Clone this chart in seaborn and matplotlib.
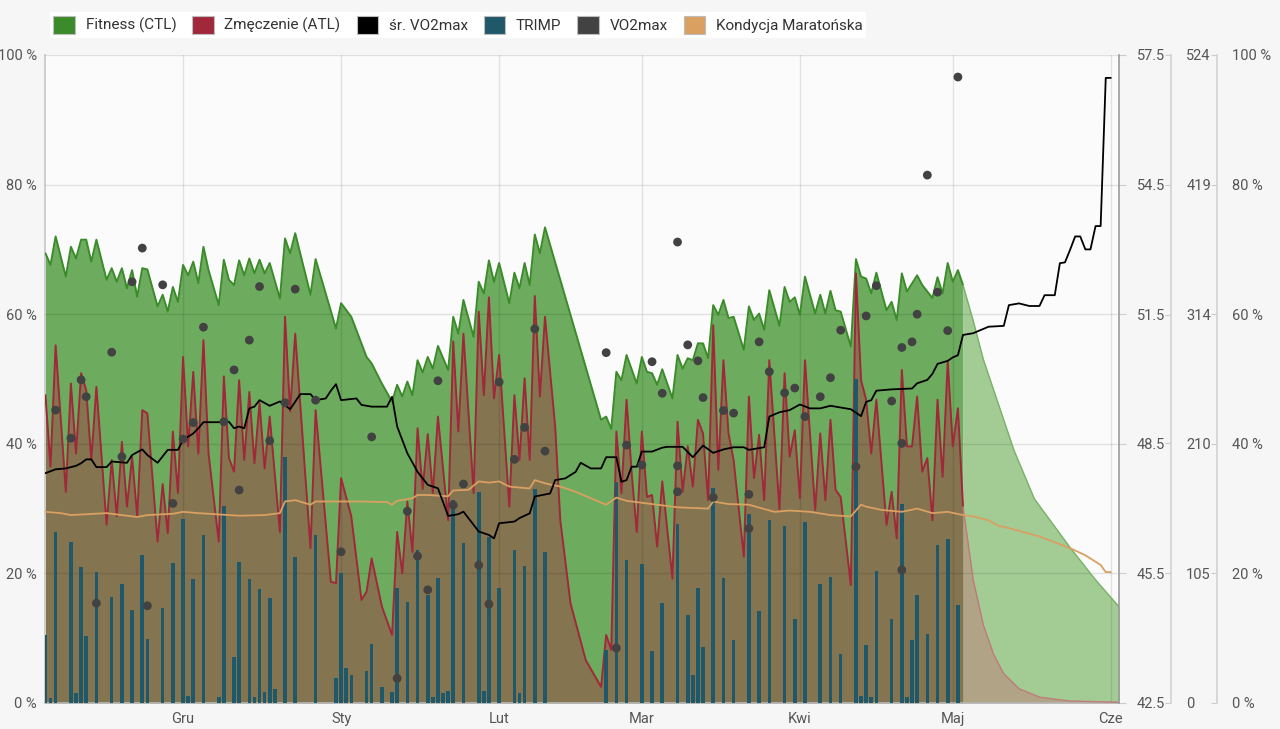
import pandas as pd
import matplotlib
matplotlib.use("Agg")
import matplotlib.pyplot as plt
from matplotlib.patches import Patch
import seaborn as sns

# Dzień 0 = 4 listopada, oś X w dniach
start = pd.Timestamp("2022-11-04")

# Fitness (CTL), % (lewa oś)
ctl_day = [0, 1, 2, 4, 5, 6, 7, 8, 9, 10, 12, 13, 14, 15, 16, 17, 18, 19, 20, 22, 23, 24, 25, 26,
           27, 28, 29, 30, 31, 32, 34, 35, 36, 37, 38, 39, 40, 41, 42, 43, 44, 46, 47, 48, 49, 52,
           53, 57, 58, 60, 63, 64, 66, 68, 69, 70, 71, 72, 73, 74, 75, 76, 77, 79, 80, 81, 82, 84,
           85, 86, 87, 88, 89, 91, 92, 93, 94, 95, 96, 97, 98, 109, 110, 111, 112, 113, 114, 116,
           117, 118, 119, 120, 121, 123, 124, 125, 126, 127, 128, 129, 130, 131, 132, 133, 134,
           135, 137, 138, 139, 140, 141, 142, 144, 145, 146, 147, 148, 149, 151, 152, 153, 154,
           155, 156, 158, 159, 160, 161, 162, 163, 165, 166, 167, 168, 169, 171, 172, 173, 174,
           175, 176, 177, 178, 179, 180]
ctl_val = [69.4, 67.6, 72.0, 65.8, 70.4, 68.6, 71.5, 71.5, 68.1, 71.5, 65.3, 67.1, 65.0, 67.1,
           64.0, 66.8, 62.7, 67.1, 66.9, 61.2, 63.0, 60.4, 64.2, 61.9, 67.6, 66.0, 68.1, 64.8,
           70.4, 66.8, 61.4, 68.4, 65.3, 64.5, 68.3, 66.0, 68.6, 66.3, 68.4, 66.3, 67.9, 62.4,
           71.7, 69.4, 72.5, 63.0, 68.5, 57.8, 61.7, 59.6, 53.4, 52.4, 49.3, 46.5, 49.1, 47.3,
           49.6, 47.5, 52.9, 51.0, 53.4, 51.6, 55.1, 51.4, 59.6, 57.0, 62.2, 56.5, 65.0, 63.2,
           68.3, 65.0, 67.9, 61.7, 66.4, 64.0, 67.9, 64.5, 72.3, 69.4, 73.4, 43.7, 44.2, 42.3,
           51.1, 49.8, 53.7, 49.3, 53.4, 51.1, 50.9, 49.1, 51.5, 47.0, 53.7, 51.6, 53.2, 52.9,
           55.5, 55.5, 53.2, 61.4, 59.9, 62.2, 59.4, 59.6, 54.5, 61.2, 59.1, 60.1, 57.6, 63.7,
           58.2, 64.2, 61.9, 62.6, 59.9, 65.8, 60.1, 63.0, 60.1, 63.6, 60.6, 60.4, 55.0, 68.5,
           65.8, 65.5, 63.2, 66.4, 60.6, 61.9, 59.1, 66.3, 63.5, 66.0, 64.5, 63.5, 62.5, 65.7,
           63.2, 67.9, 65.0, 66.8, 64.5]
ctl_proj_day = [180, 182, 184, 187, 190, 194, 201, 206, 211]
ctl_proj_val = [64.5, 59.0, 53.0, 46.0, 39.0, 31.5, 24.0, 19.0, 14.5]

# Zmęczenie (ATL), %
atl_day = [0, 1, 2, 4, 5, 6, 7, 8, 9, 10, 12, 13, 14, 15, 16, 17, 18, 19, 20, 22, 23, 24, 25, 26,
           27, 28, 29, 30, 31, 32, 34, 35, 36, 37, 38, 39, 40, 41, 42, 43, 44, 46, 47, 48, 49, 52,
           53, 56, 57, 58, 60, 62, 63, 64, 66, 68, 69, 70, 71, 72, 73, 74, 75, 76, 77, 79, 80, 81,
           82, 84, 85, 86, 87, 88, 89, 91, 92, 93, 94, 95, 96, 97, 98, 100, 101, 103, 106, 109,
           110, 111, 112, 113, 114, 115, 116, 117, 118, 119, 120, 121, 123, 124, 125, 126, 127,
           128, 129, 130, 131, 132, 133, 134, 135, 137, 138, 139, 140, 141, 142, 144, 145, 146,
           147, 148, 149, 151, 152, 153, 154, 155, 156, 158, 159, 160, 161, 162, 163, 165, 166,
           167, 168, 169, 170, 171, 172, 173, 174, 175, 176, 177, 178, 179, 180]
atl_val = [47.5, 36.5, 55.2, 32.6, 49.3, 38.5, 50.9, 48.3, 37.5, 48.8, 27.5, 37.5, 28.8, 40.3,
           30.3, 38.0, 28.8, 45.2, 44.7, 24.9, 33.8, 26.2, 41.9, 32.4, 53.4, 39.6, 51.1, 38.5,
           56.0, 38.5, 24.9, 50.4, 37.8, 35.7, 49.8, 37.5, 48.0, 37.0, 46.3, 36.2, 44.2, 26.4,
           59.6, 45.0, 57.0, 23.9, 45.2, 18.7, 18.5, 34.7, 28.8, 15.9, 17.2, 22.3, 14.9, 10.5,
           26.4, 20.0, 31.1, 23.3, 42.4, 33.0, 41.5, 32.4, 44.2, 28.2, 55.8, 41.9, 57.0, 32.4,
           60.4, 47.5, 62.6, 47.0, 53.7, 30.3, 47.5, 37.5, 50.1, 37.5, 62.8, 47.3, 59.6, 42.6,
           28.2, 15.4, 6.6, 2.5, 10.5, 8.2, 41.9, 32.4, 46.8, 35.5, 26.4, 41.9, 31.8, 32.1, 24.1,
           34.2, 19.2, 43.4, 32.6, 39.6, 33.4, 43.7, 41.6, 31.3, 58.3, 36.0, 52.9, 41.6, 37.5,
           22.6, 47.3, 34.7, 41.4, 31.3, 52.9, 29.8, 50.9, 38.0, 42.1, 31.6, 52.9, 29.8, 41.6,
           31.3, 43.7, 32.9, 31.8, 18.2, 66.3, 49.8, 46.8, 38.5, 46.8, 27.5, 32.6, 25.4, 51.4,
           39.6, 39.6, 47.3, 35.7, 37.8, 28.2, 46.8, 34.9, 52.7, 39.6, 45.5, 30.3]
atl_proj_day = [180, 182, 184, 186, 188, 191, 195, 201, 211]
atl_proj_val = [30.3, 19.0, 12.0, 7.5, 4.5, 2.2, 0.9, 0.3, 0.1]

# TRIMP (oś 0-524)
trimp_day = [0, 1, 2, 5, 6, 7, 8, 10, 13, 15, 17, 19, 20, 23, 25, 27, 28, 29, 31, 34, 35, 37, 38,
             40, 41, 42, 43, 44, 45, 47, 49, 53, 57, 58, 59, 60, 63, 64, 66, 68, 69, 71, 73, 75,
             76, 77, 78, 79, 80, 82, 85, 86, 87, 89, 92, 93, 94, 96, 98, 110, 112, 114, 117, 119,
             121, 124, 126, 127, 128, 129, 131, 133, 135, 138, 140, 142, 145, 147, 149, 152, 154,
             156, 159, 160, 161, 162, 163, 166, 168, 169, 170, 171, 173, 175, 177, 179]
trimp_val = [55, 4, 138, 130, 8, 110, 54, 106, 86, 96, 75, 120, 52, 77, 113, 149, 6, 100, 136, 5,
             159, 37, 114, 100, 5, 92, 9, 85, 11, 199, 118, 136, 20, 105, 28, 23, 26, 48, 13, 9,
             93, 82, 124, 87, 5, 101, 8, 10, 164, 129, 171, 10, 134, 93, 124, 8, 111, 173, 122,
             43, 179, 116, 112, 42, 81, 145, 71, 23, 93, 45, 174, 101, 51, 153, 74, 148, 143, 68,
             146, 96, 102, 40, 262, 6, 47, 5, 107, 68, 161, 5, 51, 87, 56, 128, 133, 79]

# VO2max (punkty, oś 42.5-57.5)
vo2_day = [2, 5, 7, 8, 10, 13, 15, 17, 19, 20, 23, 25, 27, 29, 31, 35, 37, 38, 40, 42, 44, 47, 49,
           53, 58, 64, 69, 71, 73, 75, 77, 80, 82, 85, 87, 89, 92, 94, 96, 98, 110, 112, 114, 117,
           119, 121, 124, 124, 124, 126, 128, 129, 131, 133, 135, 138, 138, 140, 142, 145, 147,
           149, 152, 154, 156, 159, 161, 163, 166, 168, 168, 168, 170, 171, 173, 175, 177, 179]
vo2_val = [49.28, 48.63, 49.98, 49.59, 44.81, 50.62, 48.20, 52.25, 53.03, 44.75, 52.18, 47.12,
           48.61, 48.99, 51.20, 49.01, 50.21, 47.43, 50.90, 52.14, 48.57, 49.45, 52.08, 49.51,
           46.00, 48.66, 43.07, 46.94, 45.90, 45.12, 49.96, 47.08, 47.57, 45.69, 44.79, 49.93,
           48.14, 48.88, 51.16, 48.33, 50.61, 43.77, 48.47, 48.01, 50.40, 49.67, 53.17, 47.99,
           47.39, 50.79, 50.42, 49.57, 47.26, 49.27, 49.21, 47.33, 46.54, 50.86, 50.17, 49.68,
           49.79, 49.13, 49.59, 50.03, 51.13, 47.97, 51.46, 52.16, 49.49, 50.73, 48.51, 45.58,
           50.86, 51.50, 54.72, 52.01, 51.12, 56.99]

# śr. VO2max (linia, oś 42.5-57.5)
avg_day = [0, 2, 4, 6, 7, 8, 9, 10, 12, 13, 16, 17, 19, 20, 22, 24, 26, 27, 29, 30, 31, 34, 36,
           37, 38, 39, 40, 41, 42, 44, 46, 48, 50, 52, 53, 55, 56, 57, 58, 61, 62, 64, 67, 68, 69,
           71, 73, 75, 77, 79, 81, 82, 85, 87, 88, 89, 92, 93, 95, 96, 99, 100, 102, 104, 105, 107,
           109, 110, 112, 113, 114, 115, 116, 117, 119, 121, 122, 125, 127, 129, 131, 133, 135,
           137, 138, 140, 141, 142, 144, 146, 148, 150, 152, 154, 158, 160, 161, 162, 163, 166,
           170, 171, 173, 174, 175, 177, 178, 179, 180, 182, 185, 188, 189, 191, 193, 195, 196,
           198, 199, 200, 201, 202, 203, 204, 205, 206, 207, 208, 209]
avg_val = [47.82, 47.91, 47.93, 47.99, 48.05, 48.14, 48.14, 47.96, 47.96, 48.09, 48.06, 48.24,
           48.37, 48.24, 48.06, 48.36, 48.36, 48.59, 48.74, 48.86, 49.00, 49.00, 49.01, 48.86,
           48.90, 48.86, 49.32, 49.36, 49.51, 49.38, 49.48, 49.30, 49.65, 49.65, 49.51, 49.55,
           49.73, 49.88, 49.51, 49.55, 49.40, 49.36, 49.36, 49.59, 48.90, 48.28, 47.85, 47.55,
           47.47, 46.83, 46.87, 46.93, 46.47, 46.39, 46.31, 46.66, 46.70, 46.78, 46.89, 47.28,
           47.35, 47.66, 47.70, 47.85, 48.06, 47.93, 47.93, 48.19, 48.19, 47.62, 47.66, 47.97,
           47.97, 48.32, 48.32, 48.41, 48.43, 48.43, 48.19, 48.46, 48.29, 48.37, 48.42, 48.42,
           48.36, 48.40, 48.42, 49.13, 49.23, 49.28, 49.41, 49.32, 49.32, 49.38, 49.30, 49.14,
           49.47, 49.51, 49.73, 49.76, 49.78, 49.90, 49.98, 50.12, 50.35, 50.42, 50.50, 50.55,
           51.02, 51.06, 51.21, 51.23, 51.71, 51.75, 51.69, 51.69, 51.94, 51.94, 52.68, 52.70,
           52.99, 53.30, 53.30, 53.00, 53.00, 53.54, 53.54, 56.97, 56.97]

# Kondycja Maratońska, % (prawa oś)
kond_day = [0, 3, 5, 12, 18, 20, 25, 27, 30, 36, 38, 43, 46, 47, 49, 52, 53, 58, 62, 67, 68, 69,
            72, 73, 75, 79, 80, 83, 85, 87, 89, 91, 95, 96, 98, 101, 104, 107, 110, 112, 114, 118,
            124, 130, 131, 134, 138, 143, 146, 150, 154, 158, 160, 161, 164, 168, 171, 174, 177,
            180, 182, 185, 187, 188, 195, 201, 204, 207, 208, 209]
kond_val = [29.5, 29.3, 29.0, 29.3, 28.7, 29.0, 29.2, 29.5, 29.3, 29.0, 28.9, 29.0, 29.3, 31.1,
            31.3, 30.6, 31.1, 31.1, 31.1, 31.0, 30.6, 31.2, 31.6, 32.1, 32.1, 31.9, 32.8, 32.9,
            34.2, 34.0, 34.2, 33.4, 33.1, 34.4, 33.9, 33.4, 32.6, 31.6, 30.6, 31.7, 31.2, 30.8,
            30.2, 30.0, 31.1, 30.7, 30.6, 29.5, 29.7, 29.5, 29.0, 28.8, 30.6, 30.3, 29.8, 29.5,
            30.0, 29.3, 29.5, 29.0, 28.8, 28.2, 27.3, 27.2, 25.7, 23.9, 22.8, 21.3, 20.2, 20.2]

month_labels = ["Gru", "Sty", "Lut", "Mar", "Kwi", "Maj", "Cze"]


def to_dates(days):
    return start + pd.to_timedelta(days, unit="D")


c_ctl = "#3b8b2a"
c_atl = "#a1283a"
c_avg = "#000000"
c_trimp = "#1f5868"
c_vo2 = "#424242"
c_kond = "#d9a062"

sns.set_theme(style="white")
plt.rcParams["font.family"] = ["Roboto", "DejaVu Sans"]

fig = plt.figure(figsize=(12.8, 7.29), dpi=100, facecolor="#f6f6f6")
ax = fig.add_axes([45 / 1280, 26 / 729, 1074 / 1280, 648 / 729])
ax.set_facecolor("#fbfbfb")
ax3 = ax.twinx()
ax4 = ax.twinx()
ax2 = ax.twinx()

ctl_d, ctl_pd = to_dates(ctl_day), to_dates(ctl_proj_day)
atl_d, atl_pd = to_dates(atl_day), to_dates(atl_proj_day)

# CTL / ATL fills (historia + prognoza)
ax.fill_between(ctl_d, 0, ctl_val, color="#6dac5e", lw=0, zorder=1)
ax.fill_between(ctl_pd, 0, ctl_proj_val, color="#a3cb94", lw=0, zorder=1)
ax.fill_between(atl_d, 0, atl_val, color="#857450", lw=0, zorder=2)
ax.fill_between(atl_pd, 0, atl_proj_val, color="#b1a486", lw=0, zorder=2)
sns.lineplot(x=ctl_d, y=ctl_val, ax=ax, color=c_ctl, lw=1.4, zorder=3)
sns.lineplot(x=ctl_pd, y=ctl_proj_val, ax=ax, color="#78b266", lw=1.0, zorder=3)
sns.lineplot(x=atl_d, y=atl_val, ax=ax, color=c_atl, lw=1.4, zorder=3)
sns.lineplot(x=atl_pd, y=atl_proj_val, ax=ax, color="#c07a7a", lw=1.0, zorder=3)

# TRIMP bars
ax3.bar(to_dates(trimp_day), trimp_val, width=0.7, color=c_trimp, edgecolor="none",
        linewidth=0, zorder=2)

# Kondycja Maratońska
sns.lineplot(x=to_dates(kond_day), y=kond_val, ax=ax4, color=c_kond, lw=1.3)

# VO2max
sns.lineplot(x=to_dates(avg_day), y=avg_val, ax=ax2, color=c_avg, lw=1.3)
sns.scatterplot(x=to_dates(vo2_day), y=vo2_val, ax=ax2, color=c_vo2, s=40,
                edgecolor="none", zorder=4)

# osie
ax.set_xlim(start - pd.Timedelta(hours=2), start + pd.Timedelta(days=210.6))
months = pd.date_range("2022-12-01", periods=7, freq="MS")
ax.set_xticks(months)
ax.set_xticklabels(month_labels)
ax.set_ylim(0, 100)
ax.set_yticks(range(0, 101, 20))
ax.set_yticklabels([f"{v} %" for v in range(0, 101, 20)])
ax.grid(True, color="#000000", alpha=0.1, lw=1)
ax.set_axisbelow(False)
ax.tick_params(axis="both", length=0, labelsize=10.5, labelcolor="#555555")
ax.tick_params(axis="y", pad=6)
ax.tick_params(axis="x", pad=6.5)

ax2.set_ylim(42.5, 57.5)
ax2.set_yticks([42.5, 45.5, 48.5, 51.5, 54.5, 57.5])
ax2.set_yticklabels(["42.5", "45.5", "48.5", "51.5", "54.5", "57.5"])
ax2.tick_params(axis="y", direction="out", length=5, width=0.8, color="#cccccc",
                pad=8, labelsize=10.5, labelcolor="#555555")

ax3.set_ylim(0, 524)
ax3.set_yticks([0, 105, 210, 314, 419, 524])
ax3.spines["right"].set_position(("axes", 1126 / 1074))
ax3.tick_params(axis="y", direction="in", length=4, width=0.8, color="#cccccc",
                pad=11, labelsize=10.5, labelcolor="#555555")

ax4.set_ylim(0, 100)
ax4.set_yticks(range(0, 101, 20))
ax4.set_yticklabels([f"{v} %" for v in range(0, 101, 20)])
ax4.spines["right"].set_position(("axes", 1172 / 1074))
ax4.tick_params(axis="y", direction="in", length=4, width=0.8, color="#cccccc",
                pad=11, labelsize=10.5, labelcolor="#555555")

for a in (ax, ax2, ax3, ax4):
    a.set_xlabel("")
    a.set_ylabel("")
    for s in a.spines.values():
        s.set_visible(False)
ax.spines["left"].set_visible(True)
ax.spines["left"].set_color("#c8c8c8")
ax.spines["bottom"].set_visible(True)
ax.spines["bottom"].set_color("#bbbbbb")
ax2.spines["right"].set_visible(True)
ax2.spines["right"].set_color("#9a9a9a")
ax2.spines["right"].set_linewidth(1.2)
for a in (ax3, ax4):
    a.spines["right"].set_visible(True)
    a.spines["right"].set_color("#d4d4d4")

for a in (ax, ax2, ax3, ax4):
    if a.get_legend() is not None:
        a.get_legend().remove()

handles = [Patch(facecolor=c, edgecolor="#bdbdbd", lw=0.8)
           for c in (c_ctl, c_atl, c_avg, c_trimp, c_vo2, c_kond)]
names = ["Fitness (CTL)", "Zmęczenie (ATL)", "śr. VO2max", "TRIMP", "VO2max",
         "Kondycja Maratońska"]
leg = fig.legend(handles, names, loc="center left", bbox_to_anchor=(42 / 1280, 1 - 25 / 729),
                 ncol=6, fontsize=11, frameon=True, facecolor="white", edgecolor="none",
                 framealpha=1, fancybox=False, handlelength=1.4, handleheight=1.4,
                 handletextpad=0.7, columnspacing=1.05, borderpad=0.25, labelcolor="#333333")

fig.savefig("out.png", dpi=100, facecolor=fig.get_facecolor())
